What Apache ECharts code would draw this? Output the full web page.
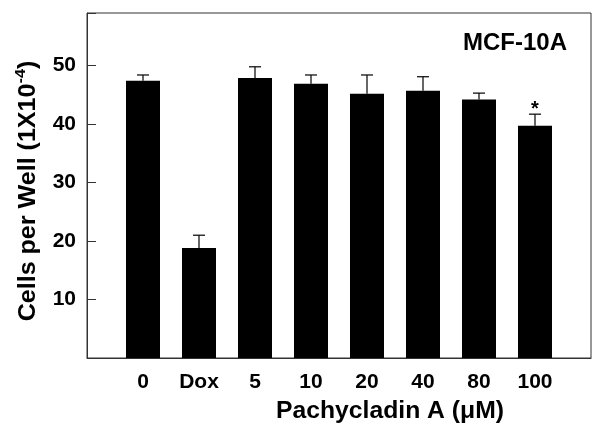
<!DOCTYPE html>
<html>
<head>
<meta charset="utf-8">
<script src="https://cdn.jsdelivr.net/npm/echarts@6/dist/echarts.min.js"></script>
<style>
html,body{margin:0;padding:0;background:#fff;}
#chart{width:601px;height:445px;}
</style>
</head>
<body>
<div id="chart"></div>
<script>
var categories = ['0', 'Dox', '5', '10', '20', '40', '80', '100'];
var means = [47.4, 18.8, 47.9, 46.9, 45.2, 45.7, 44.2, 39.7];
var errors = [1.0, 2.2, 1.9, 1.5, 3.2, 2.4, 1.1, 2.0];
var marks = ['', '', '', '', '', '', '', '*'];
var yTicks = [10, 20, 30, 40, 50];

var FONT = '"Liberation Sans", Arial, sans-serif';

var barData = means.map(function (v, i) { return [i + 1, v]; });
var errData = means.map(function (v, i) { return [i + 1, v, v + errors[i], marks[i]]; });

var chart = echarts.init(document.getElementById('chart'), null, {renderer: 'canvas'});
chart.setOption({
  animation: false,
  backgroundColor: '#fff',
  grid: {left: 87, right: 10, top: 13, bottom: 87, show: true, borderColor: '#333', borderWidth: 1, backgroundColor: 'transparent'},
  xAxis: {
    type: 'value', min: 0, max: 9, interval: 1,
    axisLine: {show: true, onZero: false, lineStyle: {color: '#333', width: 1}},
    axisTick: {show: false},
    splitLine: {show: false},
    axisLabel: {
      margin: 14, color: '#000', fontFamily: FONT, fontWeight: 'bold', fontSize: 21,
      formatter: function (v) { return (v >= 1 && v <= categories.length) ? categories[v - 1] : ''; }
    }
  },
  yAxis: {
    type: 'value', min: 0, max: 59, interval: 10,
    axisLine: {show: true, lineStyle: {color: '#333', width: 1}},
    axisTick: {show: true, inside: true, length: 9, lineStyle: {color: '#333'}},
    splitLine: {show: false},
    axisLabel: {
      margin: 11, color: '#000', fontFamily: FONT, fontWeight: 'bold', fontSize: 21,
      formatter: function (v) { return yTicks.indexOf(v) >= 0 ? String(v) : ''; }
    }
  },
  series: [
    {
      type: 'bar', data: barData, barWidth: 34,
      itemStyle: {color: '#000'}, silent: true
    },
    {
      type: 'custom', data: errData, silent: true, z: 3,
      renderItem: function (params, api) {
        var x = api.value(0);
        var base = api.coord([x, api.value(1)]);
        var top = api.coord([x, api.value(2)]);
        var children = [
          {type: 'line', shape: {x1: base[0], y1: base[1], x2: top[0], y2: top[1]}, style: {stroke: '#000', lineWidth: 1.2}},
          {type: 'line', shape: {x1: top[0] - 6, y1: top[1], x2: top[0] + 6, y2: top[1]}, style: {stroke: '#000', lineWidth: 1.2}}
        ];
        var m = api.value(3);
        if (m) {
          children.push({type: 'text', x: top[0], y: top[1] + 5, style: {text: m, fill: '#000', font: 'bold 20px ' + FONT, align: 'center', verticalAlign: 'bottom'}});
        }
        return {type: 'group', children: children};
      }
    }
  ],
  graphic: [
    {type: 'text', left: 463, top: 31, style: {text: 'MCF-10A', fill: '#000', font: 'bold 24px ' + FONT}},
    {type: 'text', x: 390, y: 411, scaleX: 1.03, style: {text: 'Pachycladin A (\u03bcM)', fill: '#000', font: 'bold 24px ' + FONT, align: 'center', verticalAlign: 'middle'}},
    {type: 'text', x: 27, y: 191, rotation: Math.PI / 2, scaleX: 1.09,
      style: {
        text: '{n|Cells per Well (1X10}{s|-4}{n|)}',
        align: 'center', verticalAlign: 'middle',
        rich: {
          n: {font: 'bold 23px ' + FONT, fill: '#000', lineHeight: 27, verticalAlign: 'bottom'},
          s: {font: 'bold 15px ' + FONT, fill: '#000', lineHeight: 27, verticalAlign: 'top'}
        }
      }
    }
  ]
});
</script>
</body>
</html>
